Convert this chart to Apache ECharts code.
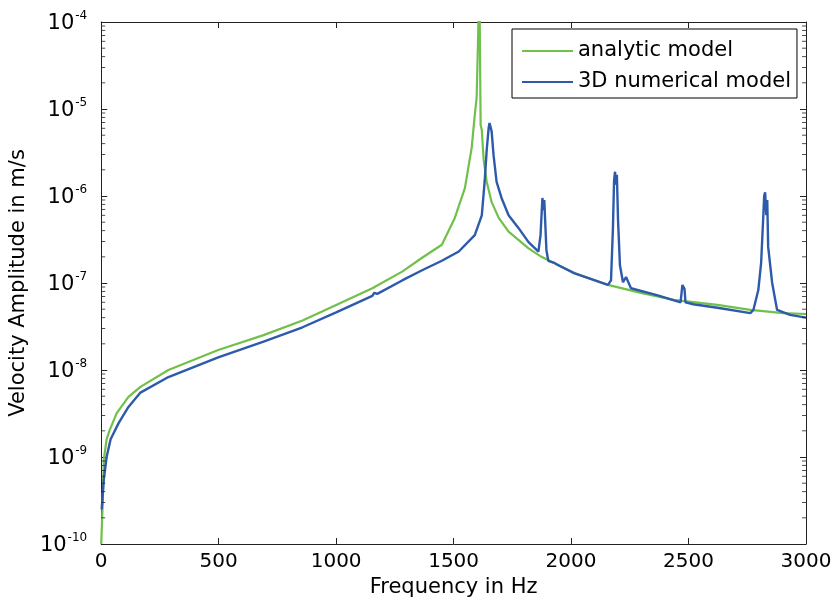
<!DOCTYPE html>
<html><head><meta charset="utf-8">
<script src="https://cdn.jsdelivr.net/npm/echarts@6/dist/echarts.min.js"></script>
<style>html,body{margin:0;padding:0;background:#fff}#c{width:835px;height:606px}</style>
</head><body><div id="c"></div><script>
// ---- data ----
const analyticFreq = [0, 6, 11, 23, 36, 66, 116, 167, 286, 498, 688, 857, 1000, 1154, 1281, 1366, 1450, 1505, 1548, 1577, 1590, 1598, 1603, 1607, 1611, 1615, 1620, 1628, 1641, 1662, 1692, 1734, 1819, 1874, 2013, 2157, 2297, 2437, 2623, 2763, 2903, 3000];
const analyticVel = [1e-10, 2.8e-10, 9.3e-10, 1.6e-9, 2.04e-9, 3.2e-9, 4.9e-9, 6.4e-9, 1.0e-8, 1.7e-8, 2.5e-8, 3.7e-8, 5.6e-8, 8.7e-8, 1.35e-7, 1.95e-7, 2.75e-7, 5.6e-7, 1.23e-6, 3.6e-6, 8.5e-6, 1.34e-5, 4.8e-5, 1.4e-4, 1.2e-4, 6.6e-6, 5.7e-6, 2.6e-6, 1.45e-6, 8.5e-7, 5.6e-7, 3.9e-7, 2.5e-7, 2.0e-7, 1.3e-7, 9.5e-8, 7.7e-8, 6.4e-8, 5.6e-8, 4.9e-8, 4.5e-8, 4.4e-8];

const numericalFreq = [2, 11, 23, 40, 74, 116, 167, 286, 498, 688, 857, 1000, 1154, 1162, 1175, 1281, 1366, 1450, 1522, 1590, 1620, 1632, 1641, 1649, 1653, 1662, 1670, 1683, 1704, 1734, 1776, 1819, 1840, 1848, 1861, 1870, 1878, 1882, 1886, 1895, 1903, 1929, 1937, 1950, 2013, 2157, 2170, 2178, 2183, 2187, 2191, 2195, 2200, 2208, 2221, 2234, 2242, 2255, 2369, 2466, 2474, 2483, 2487, 2520, 2623, 2763, 2776, 2797, 2809, 2818, 2822, 2826, 2831, 2835, 2839, 2856, 2877, 2932, 3000];
const numericalVel = [2.5e-10, 5.5e-10, 1.0e-9, 1.6e-9, 2.45e-9, 3.76e-9, 5.5e-9, 8.3e-9, 1.4e-8, 2.1e-8, 3.1e-8, 4.6e-8, 7.1e-8, 7.7e-8, 7.5e-8, 1.07e-7, 1.4e-7, 1.8e-7, 2.3e-7, 3.55e-7, 6.0e-7, 1.45e-6, 3.4e-6, 6.0e-6, 6.9e-6, 5.5e-6, 2.95e-6, 1.45e-6, 9.5e-7, 6.0e-7, 4.3e-7, 2.95e-7, 2.6e-7, 2.65e-7, 2.3e-7, 3.55e-7, 9.5e-7, 6.9e-7, 9.0e-7, 2.4e-7, 1.8e-7, 1.7e-7, 1.76e-7, 1.58e-7, 1.3e-7, 9.5e-8, 1.07e-7, 4.1e-7, 1.5e-6, 1.9e-6, 1.35e-6, 1.75e-6, 5.2e-7, 1.6e-7, 1.02e-7, 1.17e-7, 1.05e-7, 8.7e-8, 7.2e-8, 6.0e-8, 9.5e-8, 8.5e-8, 6.0e-8, 5.7e-8, 5.2e-8, 4.5e-8, 4.9e-8, 8.3e-8, 1.7e-7, 5.7e-7, 1.0e-6, 1.1e-6, 6.0e-7, 9.0e-7, 2.6e-7, 1.0e-7, 4.9e-8, 4.3e-8, 4.0e-8];

const seriesNames = ['analytic model', '3D numerical model'];
const xTickValues = [0, 500, 1000, 1500, 2000, 2500, 3000];
const yDecadeExponents = [-10, -9, -8, -7, -6, -5, -4];
const minorMultipliers = [2, 3, 4, 5, 6, 7, 8, 9];

// ---- build ----
const zip = (a, b) => a.map((v, i) => [v, b[i]]);
const X0 = xTickValues[0], X1 = xTickValues[xTickValues.length - 1];
const minorTickValues = [];
yDecadeExponents.slice(0, -1).forEach(e => minorMultipliers.forEach(m => minorTickValues.push(m * Math.pow(10, e))));
const TICK_INSET = (X1 - X0) * 2 / 708.5; // half of a 4px minor tick, in axis units

const FONT = 'DejaVu Sans, Verdana, sans-serif';
const AX = '#222';
const GREEN = '#70c04a', BLUE = '#2d5aab';

const minorTickSeries = (xv) => ({
  type: 'scatter', silent: true, clip: false, z: 10,
  data: minorTickValues.map(v => [xv, v]),
  symbol: 'rect', symbolSize: [4, 1],
  itemStyle: {color: AX},
  emphasis: {disabled: true}
});
const axisLineStyle = {show: true, onZero: false, lineStyle: {color: AX, width: 1}};
const tickStyle = {show: true, inside: true, length: 6, lineStyle: {color: AX}};

const chart = echarts.init(document.getElementById('c'), null, {renderer: 'canvas'});
chart.setOption({
  animation: false,
  backgroundColor: '#fff',
  grid: {left: 97.5, right: 29, top: 22, bottom: 62, containLabel: false},
  legend: {
    data: [
      {name: seriesNames[0], itemStyle: {color: GREEN}},
      {name: seriesNames[1], itemStyle: {color: BLUE}}
    ],
    orient: 'vertical',
    icon: 'rect',
    left: 512, top: 29,
    padding: [10, 6, 4, 10],
    itemWidth: 51, itemHeight: 2, itemGap: 7,
    borderColor: '#000', borderWidth: 1, backgroundColor: '#fff', borderRadius: 0,
    textStyle: {fontFamily: FONT, fontSize: 21, color: '#000', lineHeight: 24}
  },
  xAxis: [{
    type: 'value', min: X0, max: X1, interval: 500,
    name: 'Frequency in Hz', nameLocation: 'middle', nameGap: 31,
    nameTextStyle: {fontFamily: FONT, fontSize: 21, color: '#000'},
    axisLine: axisLineStyle, axisTick: tickStyle,
    axisLabel: {fontFamily: FONT, fontSize: 20, color: '#000', margin: 8, formatter: v => String(v)},
    splitLine: {show: false}
  }, {
    type: 'value', min: X0, max: X1, interval: 500, position: 'top',
    axisLine: axisLineStyle, axisTick: tickStyle,
    axisLabel: {show: false}, splitLine: {show: false}
  }],
  yAxis: [{
    type: 'log', logBase: 10, min: 1e-10, max: 1e-4, splitNumber: 6, position: 'left',
    name: 'Velocity Amplitude in m/s', nameLocation: 'middle', nameGap: 63,
    nameTextStyle: {fontFamily: FONT, fontSize: 21, color: '#000'},
    axisLine: axisLineStyle, axisTick: tickStyle,
    axisLabel: {
      show: true, fontFamily: FONT, color: '#000', margin: 14,
      formatter: v => '{b|10}{s|' + Math.round(Math.log10(v)) + '}',
      rich: {
        b: {fontSize: 21, fontFamily: FONT, color: '#000', verticalAlign: 'bottom'},
        s: {fontSize: 12, fontFamily: FONT, color: '#000', padding: [0, 0, 12, 1], verticalAlign: 'bottom'}
      }
    },
    splitLine: {show: false}
  }, {
    type: 'log', logBase: 10, min: 1e-10, max: 1e-4, splitNumber: 6, position: 'right',
    axisLine: axisLineStyle, axisTick: tickStyle,
    axisLabel: {show: false}, splitLine: {show: false}
  }],
  series: [{
    name: seriesNames[0], type: 'line',
    data: zip(analyticFreq, analyticVel),
    symbol: 'none', showSymbol: false, clip: true,
    lineStyle: {color: GREEN, width: 2.2}, itemStyle: {color: GREEN}, z: 3
  }, {
    name: seriesNames[1], type: 'line',
    data: zip(numericalFreq, numericalVel),
    symbol: 'none', showSymbol: false, clip: true,
    lineStyle: {color: BLUE, width: 2.4}, itemStyle: {color: BLUE}, z: 4
  },
  minorTickSeries(X0 + TICK_INSET),
  minorTickSeries(X1 - TICK_INSET)
  ]
});
</script></body></html>
